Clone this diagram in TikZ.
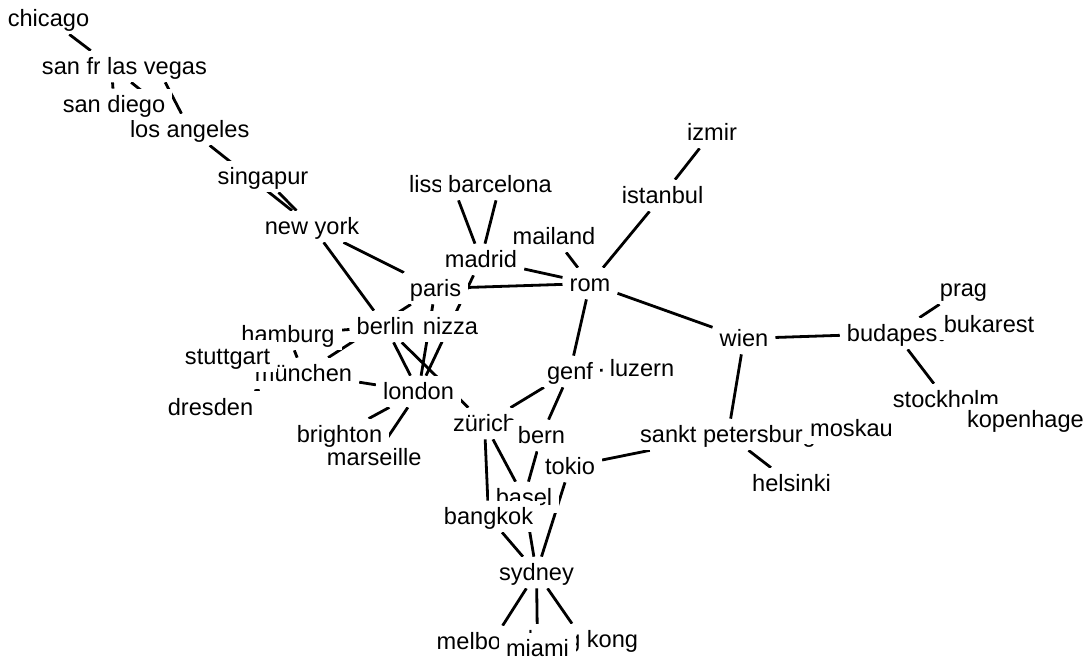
\documentclass[tikz,border=0pt]{standalone}
\usepackage{fontspec}
\setmainfont{Liberation Sans}
\pgfdeclarelayer{edges}
\pgfsetlayers{edges,main}
\begin{document}
\begin{tikzpicture}[x=1pt,y=-1pt,
  city/.style={fill=white,inner xsep=7pt,inner ysep=2pt,text height=22pt,text depth=5.3pt,font=\fontsize{23.6}{28}\selectfont},
  road/.style={line width=2.8pt}]
  \useasboundingbox (0,0) rectangle (1085,660);
  \clip (0,0) rectangle (1085,660);
  \node[city] (chicago) at (48.5,18.5) {chicago};
  \node[city] (sanfran) at (111.5,66.5) {san francisco};
  \node[city] (lasvegas) at (157,66.5) {las vegas};
  \node[city] (losangeles) at (189.7,129.5) {los angeles};
  \node[city] (sandiego) at (114,104.5) {san diego};
  \node[city] (singapur) at (263,176.5) {singapur};
  \node[city] (newyork) at (312,226.5) {new york};
  \node[city] (lissabon) at (452.5,184.5) {lissabon};
  \node[city] (barcelona) at (500,184.5) {barcelona};
  \node[city] (izmir) at (712,132.5) {izmir};
  \node[city] (istanbul) at (662.6,195.5) {istanbul};
  \node[city] (mailand) at (554,236.5) {mailand};
  \node[city] (madrid) at (481,259.5) {madrid};
  \node[city] (paris) at (435.5,288.5) {paris};
  \node[city] (rom) at (590,283.5) {rom};
  \node[city] (wien) at (744,338.5) {wien};
  \node[city] (budapest) at (895.5,333.5) {budapest};
  \node[city] (prag) at (963.5,288.5) {prag};
  \node[city] (bukarest) at (989,324.5) {bukarest};
  \node[city] (stockholm) at (946,399.5) {stockholm};
  \node[city] (kopenhagen) at (1032,419.5) {kopenhagen};
  \node[city] (hamburg) at (288,334.5) {hamburg};
  \node[city] (berlin) at (385.5,326.5) {berlin};
  \node[city] (nizza) at (450.5,326.5) {nizza};
  \node[city] (muenchen) at (303.5,373.5) {münchen};
  \node[city] (stuttgart) at (227.6,356) {stuttgart};
  \node[city] (dresden) at (210.5,407) {dresden};
  \node[city] (london) at (418.5,391.5) {london};
  \node[city] (marseille) at (374.2,457.5) {marseille};
  \node[city] (brighton) at (339.5,434.5) {brighton};
  \node[city] (genf) at (570,371.5) {genf};
  \node[city] (luzern) at (642,368.5) {luzern};
  \node[city] (zuerich) at (484.5,423.5) {zürich};
  \node[city] (bern) at (541.5,435.5) {bern};
  \node[city] (tokio) at (570,466.5) {tokio};
  \node[city] (sanktpetersburg) at (728,434.5) {sankt petersburg};
  \node[city] (moskau) at (851.5,428.5) {moskau};
  \node[city] (helsinki) at (791.5,483.5) {helsinki};
  \node[city] (basel) at (524,497.5) {basel};
  \node[city] (bangkok) at (488.5,516.5) {bangkok};
  \node[city] (sydney) at (536.5,572.5) {sydney};
  \node[city] (melbourne) at (492.5,641.5) {melbourne};
  \node[city] (hongkong) at (583,639.5) {hong kong};
  \node[city] (miami) at (537.5,648.5) {miami};
  \begin{pgfonlayer}{edges}
  \begin{scope}[road]
    \draw (chicago) -- (sanfran);
    \draw (sanfran) -- (sandiego);
    \draw (sanfran) -- (losangeles);
    \draw (lasvegas) -- (losangeles);
    \draw (losangeles) -- (newyork);
    \draw (singapur) -- (newyork);
    \draw (newyork) -- (paris);
    \draw (newyork) -- (berlin);
    \draw (lissabon) -- (madrid);
    \draw (barcelona) -- (madrid);
    \draw (madrid) -- (rom);
    \draw (madrid) -- (london);
    \draw (mailand) -- (rom);
    \draw (paris) -- (rom);
    \draw (paris) -- (london);
    \draw (paris) -- (muenchen);
    \draw (istanbul) -- (rom);
    \draw (izmir) -- (istanbul);
    \draw (rom) -- (wien);
    \draw (rom) -- (genf);
    \draw (wien) -- (budapest);
    \draw (wien) -- (sanktpetersburg);
    \draw (budapest) -- (prag);
    \draw (budapest) -- (bukarest);
    \draw (budapest) -- (stockholm);
    \draw (stockholm) -- (kopenhagen);
    \draw (sanktpetersburg) -- (tokio);
    \draw (sanktpetersburg) -- (helsinki);
    \draw (sanktpetersburg) -- (moskau);
    \draw (genf) -- (luzern);
    \draw (genf) -- (zuerich);
    \draw (genf) -- (bern);
    \draw (hamburg) -- (berlin);
    \draw (hamburg) -- (muenchen);
    \draw (berlin) -- (london);
    \draw (berlin) -- (zuerich);
    \draw (stuttgart) -- (muenchen);
    \draw (muenchen) -- (dresden);
    \draw (muenchen) -- (london);
    \draw (london) -- (brighton);
    \draw (london) -- (marseille);
    \draw (zuerich) -- (basel);
    \draw (zuerich) -- (bangkok);
    \draw (bern) -- (basel);
    \draw (tokio) -- (sydney);
    \draw (bangkok) -- (sydney);
    \draw (basel) -- (sydney);
    \draw (sydney) -- (melbourne);
    \draw (sydney) -- (miami);
    \draw (sydney) -- (hongkong);
  \end{scope}
  \end{pgfonlayer}
\end{tikzpicture}
\end{document}
